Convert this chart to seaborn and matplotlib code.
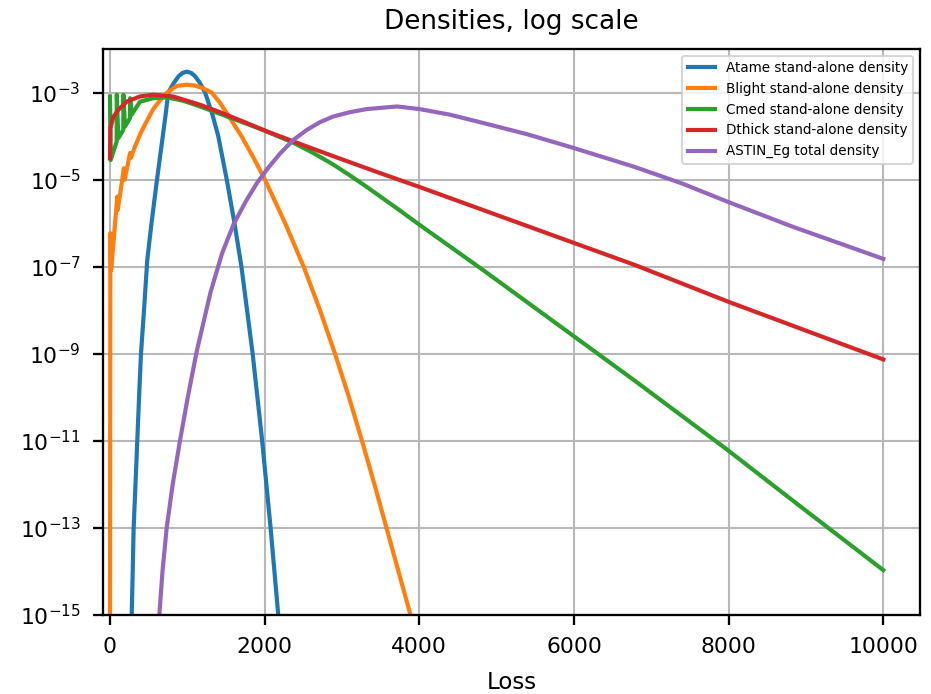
import numpy as np
import pandas as pd
import matplotlib
matplotlib.use("Agg")
import matplotlib.pyplot as plt
from matplotlib.ticker import NullLocator, FixedLocator
import seaborn as sns

# Loss grid points and log10 densities for each line
atame_x = [265, 281, 294, 306, 330, 353, 376, 401, 440, 482, 537, 608, 683, 720, 754, 829,
           890, 938, 992, 1050, 1098, 1160, 1230, 1327, 1400, 1510, 1610, 1700, 1845,
           1968, 2077, 2176, 2223]
atame_log10 = [-16.0, -15.0, -14.0, -13.0, -12.0, -11.0, -10.0, -9.0, -8.0, -6.85, -6.0,
               -5.0, -4.0, -3.5, -3.0, -2.77, -2.62, -2.55, -2.52, -2.55, -2.62, -2.77,
               -3.0, -3.52, -4.0, -5.0, -6.0, -7.0, -9.0, -11.0, -13.0, -15.0, -16.0]

blight_x = [0, 5, 15, 95, 100, 180, 190, 260, 270, 323, 400, 475, 560, 650, 733, 862, 990,
            1099, 1200, 1315, 1420, 1520, 1700, 1857, 2004, 2265, 2505, 2716, 2910, 3091,
            3259, 3420, 3576, 3731, 3886, 3960]
blight_log10 = [-17.0, -6.23, -7.08, -5.39, -5.70, -4.74, -5.0, -4.39, -4.5, -4.24, -3.92,
                -3.66, -3.38, -3.17, -3.01, -2.85, -2.82, -2.84, -2.90, -3.0, -3.23, -3.5,
                -4.0, -4.5, -5.0, -6.0, -7.0, -8.0, -9.0, -10.0, -11.0, -12.0, -13.0, -14.0,
                -15.0, -16.0]

cmed_x = [0, 9, 86, 88, 108, 172, 174, 194, 259, 261, 280, 388, 560, 733, 950, 1164, 1591,
          1979, 2367, 2620, 2884, 3100, 3323, 3750, 4004, 4827, 6008, 6787, 7979, 8923, 10000]
cmed_log10 = [-3.09, -4.55, -4.13, -3.05, -4.05, -3.86, -3.05, -3.78, -3.59, -3.13, -3.51,
              -3.21, -3.13, -3.11, -3.19, -3.32, -3.60, -3.86, -4.15, -4.38, -4.65, -4.90,
              -5.17, -5.71, -6.04, -7.08, -8.61, -9.62, -11.2, -12.5, -13.97]

dthick_x = [0, 6, 13, 43, 107, 216, 388, 556, 815, 1164, 1422, 1700, 2026, 2457, 2884, 3492,
            4004, 4827, 6008, 6787, 7989, 10000]
dthick_log10 = [-4.51, -3.80, -3.77, -3.56, -3.40, -3.21, -3.09, -3.05, -3.09, -3.28, -3.45,
                -3.65, -3.89, -4.18, -4.46, -4.85, -5.17, -5.70, -6.46, -6.96, -7.80, -9.13]

astin_x = [600, 638, 679, 733, 811, 905, 1006, 1121, 1300, 1450, 1600, 1750, 1900, 2050,
           2200, 2370, 2544, 2716, 2888, 3104, 3320, 3711, 4004, 4400, 4827, 5400, 6008,
           6787, 7400, 7989, 8825, 10000]
astin_log10 = [-16.0, -15.0, -14.0, -13.0, -12.0, -11.0, -10.0, -8.95, -7.59, -6.69, -6.02,
               -5.52, -5.08, -4.72, -4.40, -4.09, -3.86, -3.68, -3.55, -3.45, -3.38, -3.32,
               -3.38, -3.51, -3.70, -3.96, -4.28, -4.71, -5.09, -5.51, -6.08, -6.82]

series_names = ["Atame stand-alone density", "Blight stand-alone density",
                "Cmed stand-alone density", "Dthick stand-alone density",
                "ASTIN_Eg total density"]
series_data = [(atame_x, atame_log10), (blight_x, blight_log10), (cmed_x, cmed_log10),
               (dthick_x, dthick_log10), (astin_x, astin_log10)]

frames = []
for name, (xs, ls) in zip(series_names, series_data):
    frames.append(pd.DataFrame({"Loss": xs,
                                "density": 10.0 ** np.asarray(ls, dtype=float),
                                "series": name}))
df = pd.concat(frames, ignore_index=True)

fig = plt.figure(figsize=(932 / 150, 694 / 150), dpi=150)
ax = fig.add_axes([0.1102, 0.1138, 0.9871 - 0.1102, 0.9294 - 0.1138])

palette = dict(zip(series_names, sns.color_palette("tab10", 5)))
sns.lineplot(data=df, x="Loss", y="density", hue="series", hue_order=series_names,
             palette=palette, estimator=None, sort=False, units="series",
             linewidth=2.0, ax=ax)

ax.set_yscale("log")
ax.set_ylim(1e-15, 1e-2)
ax.set_xlim(-94, 10474)
ax.yaxis.set_major_locator(FixedLocator([1e-15, 1e-13, 1e-11, 1e-9, 1e-7, 1e-5, 1e-3]))
ax.yaxis.set_minor_locator(NullLocator())
ax.set_xticks([0, 2000, 4000, 6000, 8000, 10000])
ax.grid(True, color="#b8b8b8", linewidth=1.0)
ax.set_axisbelow(True)
for sp in ax.spines.values():
    sp.set_linewidth(1.1)
ax.tick_params(labelsize=10.5, width=1.1, length=5, pad=5.5)
ax.set_ylabel("")
ax.set_xlabel("Loss", fontsize=11, labelpad=7)
ax.set_title("Densities, log scale", fontsize=12.6, pad=9.5)
leg = ax.legend(loc="upper right", fontsize=6.5)
for line in leg.get_lines():
    line.set_linewidth(2.0)

fig.savefig("out.png", dpi=150)
